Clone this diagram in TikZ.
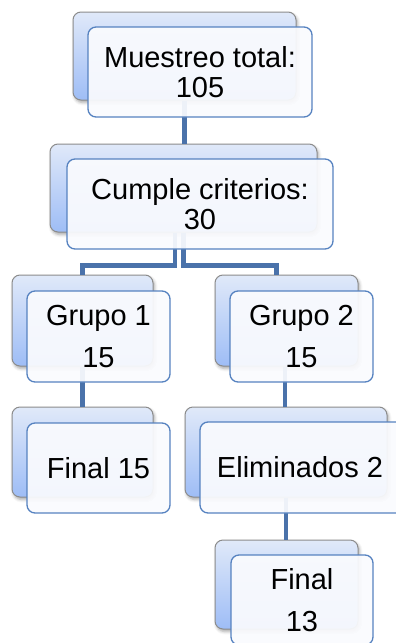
\documentclass[tikz,border=0pt]{standalone}
\usepackage{fontspec}
\setmainfont{Liberation Sans}
\usetikzlibrary{shadows.blur}
\definecolor{linkblue}{HTML}{4A72AA}
\definecolor{frameblue}{HTML}{5682C0}
\definecolor{backtop}{HTML}{E0E9F9}
\definecolor{backbottom}{HTML}{9EBDF6}
\definecolor{backframe}{HTML}{8C8C8C}
\definecolor{frontfill}{HTML}{FAFBFE}
\tikzset{
  backbox/.style={rectangle, rounded corners=8pt, draw=backframe, line width=1pt,
    top color=backtop, bottom color=backbottom,
    blur shadow={shadow xshift=1.5pt, shadow yshift=-2.5pt, shadow blur radius=3pt, shadow opacity=35}},
  frontbox/.style={rectangle, rounded corners=8pt, draw=frameblue, line width=1.3pt,
    fill=frontfill, fill opacity=0.93, text opacity=1, align=center},
  twoline/.style={font=\fontsize{29}{30}\selectfont},
  wideline/.style={font=\fontsize{29}{42}\selectfont},
  link/.style={draw=linkblue, line width=4.5pt}
}
\begin{document}
\begin{tikzpicture}[x=1pt, y=-1pt]
\clip (0,0) rectangle (396,643);

% back cards
\node[backbox, minimum width=223pt, minimum height=88pt] (Mb) at (184.5,56) {};
\node[backbox, minimum width=267pt, minimum height=88pt] (Cb) at (183.5,188) {};
\node[backbox, minimum width=141pt, minimum height=91pt] (G1b) at (82.5,320.5) {};
\node[backbox, minimum width=143pt, minimum height=91pt] (G2b) at (286.5,320.5) {};
\node[backbox, minimum width=141pt, minimum height=90pt] (F15b) at (82.5,452) {};
\node[backbox, minimum width=202pt, minimum height=90pt] (Eb) at (286,452) {};
\node[backbox, minimum width=143pt, minimum height=89pt] (F13b) at (286.5,584.5) {};

% connectors
\draw[link] (Mb.south) -- (Mb.south |- Cb.north);
\draw[link] ([xshift=-8.5pt]Cb.south) -- ++(0,33) -| (G1b.north);
\draw[link] (Cb.south) -- ++(0,33) -| ([xshift=-10pt]G2b.north);
\draw[link] (G1b.south) -- (F15b.north);
\draw[link] ([xshift=-1.5pt]G2b.south) -- ([xshift=-1.5pt]G2b.south |- Eb.north);
\draw[link] (Eb.south) -- (Eb.south |- F13b.north);

% front cards with the texts
\node[frontbox, twoline, minimum width=224pt, minimum height=90pt] (Mf) at (200,72) {Muestreo total:\\105};
\node[frontbox, twoline, minimum width=266pt, minimum height=90pt] (Cf) at (200,204) {Cumple criterios:\\30};
\node[frontbox, wideline, minimum width=143pt, minimum height=91pt] (G1f) at (98.5,336.5) {Grupo 1\\15};
\node[frontbox, wideline, minimum width=143pt, minimum height=91pt] (G2f) at (301.5,336.5) {Grupo 2\\15};
\node[frontbox, twoline, minimum width=143pt, minimum height=90pt] (F15f) at (98.5,468) {Final 15};
\node[frontbox, twoline, minimum width=212pt, minimum height=91pt] (Ef) at (306,467.5) {\hspace*{-12pt}Eliminados 2};
\node[frontbox, wideline, minimum width=142pt, minimum height=90pt] (F13f) at (302,600) {Final\\13};
\end{tikzpicture}
\end{document}
